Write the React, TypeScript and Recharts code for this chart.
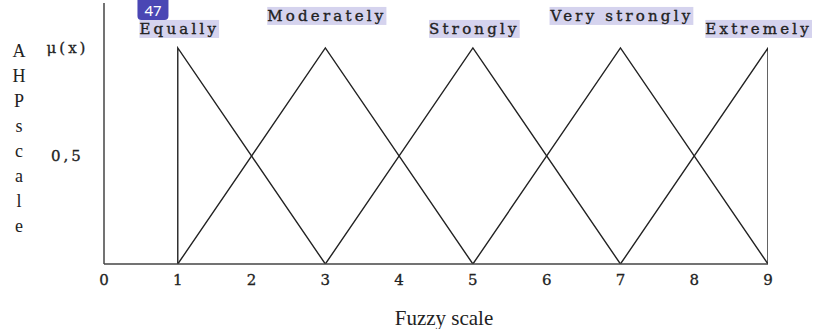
import { useLayoutEffect, useRef, useState } from "react";
import { LineChart, Line, XAxis, YAxis, ReferenceDot, Label } from "recharts";

// membership functions (triangular, AHP -> fuzzy)
const equally = [
  { x: 1, mu: 0 },
  { x: 1, mu: 1 },
  { x: 3, mu: 0 },
];
const moderately = [
  { x: 1, mu: 0 },
  { x: 3, mu: 1 },
  { x: 5, mu: 0 },
];
const strongly = [
  { x: 3, mu: 0 },
  { x: 5, mu: 1 },
  { x: 7, mu: 0 },
];
const veryStrongly = [
  { x: 5, mu: 0 },
  { x: 7, mu: 1 },
  { x: 9, mu: 0 },
];
const extremely = [
  { x: 7, mu: 0 },
  { x: 9, mu: 1 },
  { x: 9, mu: 0 },
];

const SERIES = [equally, moderately, strongly, veryStrongly, extremely];
const CATEGORIES = ["Equally", "Moderately", "Strongly", "Very strongly", "Extremely"];
const PEAKS = [1, 3, 5, 7, 9];
const X_TICKS = [0, 1, 2, 3, 4, 5, 6, 7, 8, 9];
const Y_TICKS = [0.5, 1];
const Y_TICK_LABELS: Record<number, string> = { 0.5: "0,5", 1: "μ(x)" };
const Y_TITLE = "AHPscale";
const BADGE = "47";

const W = 813;
const H = 329;
const INK = "#222";
const HILITE = "#d5d3ee";

function Tag(props: any) {
  const { viewBox, text, raised, badge } = props;
  const ref = useRef<SVGTextElement>(null);
  const [box, setBox] = useState<{ x: number; y: number; w: number; h: number } | null>(null);
  useLayoutEffect(() => {
    if (ref.current) {
      const b = ref.current.getBBox();
      setBox({ x: b.x, y: b.y, w: b.width, h: b.height });
    }
  }, [text]);
  const cx = viewBox.x + (viewBox.width || 0) / 2;
  const cy = viewBox.y + (viewBox.height || 0) / 2;
  // keep the tag inside the picture
  const shift = box ? Math.min(0, W - 1 - (box.x + box.w)) : 0;
  const baseline = cy - (raised ? 27 : 14);
  return (
    <g transform={`translate(${shift},0)`}>
      {box && <rect x={box.x} y={box.y} width={box.w} height={box.h} fill={HILITE} />}
      {badge && box && (
        <g>
          <rect x={box.x - 2} y={-6} width={31} height={box.y + 6} rx={4} fill="#4a46b4" />
          <text
            x={box.x + 13.5}
            y={box.y - 4}
            textAnchor="middle"
            fill="#fff"
            fontFamily="'Noto Sans', sans-serif"
            fontSize={15}
          >
            {badge}
          </text>
        </g>
      )}
      <text
        ref={ref}
        x={cx + 1.5}
        y={baseline}
        textAnchor="middle"
        fill={INK}
        stroke={INK}
        strokeWidth={0.35}
        fontFamily="'DejaVu Serif', serif"
        fontSize={15}
        letterSpacing={3.2}
      >
        {text}
      </text>
    </g>
  );
}

function YTick(props: any) {
  const { x, y, payload } = props;
  return (
    <text
      x={x + 1.5}
      y={y}
      dy="0.35em"
      textAnchor="middle"
      fill={INK}
      stroke={INK}
      strokeWidth={0.3}
      fontFamily="'DejaVu Serif', serif"
      fontSize={15}
      letterSpacing={3}
    >
      {Y_TICK_LABELS[payload.value] ?? ""}
    </text>
  );
}

function YTitle(props: any) {
  const { viewBox } = props;
  const top = viewBox.y;
  return (
    <text x={19} y={top + 54} textAnchor="middle" fill={INK} fontFamily="'Liberation Serif', serif" fontSize={18}>
      {Y_TITLE.split("").map((ch, i) => (
        <tspan key={i} x={19} y={top + 54 + i * 25}>
          {ch}
        </tspan>
      ))}
    </text>
  );
}

function XTitle(props: any) {
  const { viewBox } = props;
  return (
    <text
      x={viewBox.x + viewBox.width / 2 + 8}
      y={viewBox.y + viewBox.height - 4}
      textAnchor="middle"
      fill={INK}
      fontFamily="'Liberation Serif', serif"
      fontSize={21}
    >
      Fuzzy scale
    </text>
  );
}

export default function App() {
  return (
    <div style={{ position: "fixed", left: 0, top: 0, width: W, height: H, background: "#fff" }}>
      <LineChart width={W} height={H} margin={{ top: 3, right: 45, bottom: 0, left: 0 }}>
        <XAxis
          type="number"
          dataKey="x"
          domain={[0, 9]}
          ticks={X_TICKS}
          allowDataOverflow
          height={65}
          tickLine={false}
          tickMargin={4}
          axisLine={{ stroke: "#444", strokeWidth: 1.5 }}
          tick={{ fill: INK, stroke: INK, strokeWidth: 0.3, fontSize: 15, fontFamily: "'DejaVu Serif', serif" }}
        >
          <Label content={<XTitle />} />
        </XAxis>
        <YAxis
          type="number"
          dataKey="mu"
          domain={[0, 1.208]}
          ticks={Y_TICKS}
          allowDataOverflow
          width={104}
          tickLine={false}
          tickMargin={32}
          axisLine={{ stroke: "#444", strokeWidth: 1.5 }}
          tick={<YTick />}
        >
          <Label content={<YTitle />} />
        </YAxis>
        {SERIES.map((data, i) => (
          <Line
            key={CATEGORIES[i]}
            data={data}
            dataKey="mu"
            type="linear"
            stroke={INK}
            strokeWidth={1.4}
            dot={false}
            activeDot={false}
            isAnimationActive={false}
          />
        ))}
        {CATEGORIES.map((name, i) => (
          <ReferenceDot
            key={name}
            x={PEAKS[i]}
            y={1}
            r={0}
            fill="none"
            stroke="none"
            label={<Tag text={name} raised={i % 2 === 1} badge={i === 0 ? BADGE : undefined} />}
          />
        ))}
      </LineChart>
    </div>
  );
}
